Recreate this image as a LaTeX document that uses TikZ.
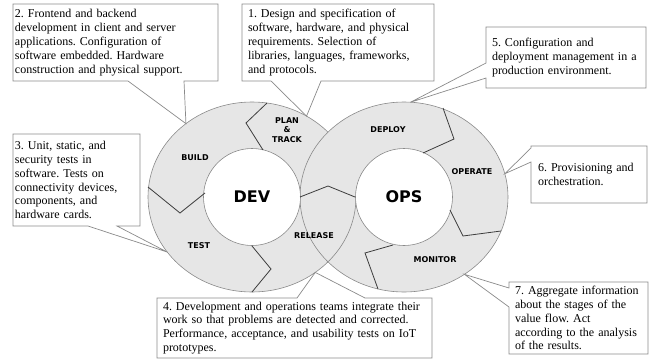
\documentclass[tikz,border=0pt]{standalone}
\usepackage{fontspec}
\setmainfont{Liberation Serif}
\newfontfamily\phasefont{DejaVu Sans}
\usetikzlibrary{shapes.geometric}
\frenchspacing

\definecolor{ringgray}{HTML}{E6E6E6}
\definecolor{edgegray}{HTML}{8A8A8A}
\definecolor{cutgray}{HTML}{3C3C3C}

\tikzset{
  ring/.style={ellipse, draw=edgegray, fill=ringgray, line width=0.6pt, minimum width=208pt, minimum height=190pt, inner sep=0pt, outer sep=0pt},
  core/.style={circle, draw=edgegray, fill=white, line width=0.6pt, minimum size=97pt, inner sep=0pt, outer sep=0pt, font=\phasefont\bfseries\fontsize{16}{18}\selectfont},
  phase/.style={font=\phasefont\bfseries\fontsize{8}{9.5}\selectfont, align=center, inner sep=0pt},
  cut/.style={draw=cutgray, line width=0.8pt},
  note/.style={anchor=north west, align=left, inner ysep=0pt, outer sep=0pt, font=\fontsize{12}{13.9}\selectfont},
  callout/.style={draw=edgegray, line width=0.7pt}
}

\begin{document}
\begin{tikzpicture}[x=1pt, y=-1pt]
  \useasboundingbox (0,0) rectangle (654,362);

  % the two rings
  \node[ring] (devring) at (252,197) {};
  \node[ring] (opsring) at (404,197) {};
  \draw[edgegray, line width=0.6pt] (devring.east) arc[start angle=0, end angle=44, x radius=104, y radius=95];
  \node[core] (devcore) at (252,197) {DEV};
  \node[core] (opscore) at (404,197) {OPS};

  % cuts between the phases
  \draw[cut] (267,103) -- (246,123) -- (263,150);
  \draw[cut] (148,187) -- (180,213) -- (205,193);
  \draw[cut] (252,246) -- (271,269) -- (252,292);
  \draw[cut] (300,197) -- (328,186) -- (355,197);
  \draw[cut] (443,108) -- (454,139) -- (423,153);
  \draw[cut] (450,210) -- (463,236) -- (501,231);
  \draw[cut] (393,245) -- (365,253) -- (378,289);

  \node[phase] (plan) at (287,130) {PLAN\\\&\\TRACK};
  \node[phase] (build) at (195,158) {BUILD};
  \node[phase] (test) at (199,246) {TEST};
  \node[phase] (release) at (314,236) {RELEASE};
  \node[phase] (deploy) at (388,130) {DEPLOY};
  \node[phase] (operate) at (472,172) {OPERATE};
  \node[phase] (monitor) at (435,260) {MONITOR};

  % notes
  \node[note, inner xsep=2pt, text width=201pt, minimum height=77pt] (note2) at (13,4)
    {2. Frontend and backend\\development in client and server\\applications. Configuration of\\software embedded. Hardware\\construction and physical support.};
  \draw[callout] ([xshift=115pt]note2.south west) -- (note2.south west) -- (note2.north west) -- (note2.north east)
    -- (note2.south east) -- ([xshift=171pt]note2.south west) -- (devring.132) -- cycle;

  \node[note, inner xsep=6pt, text width=180pt, minimum height=77pt] (note1) at (242,4)
    {1. Design and specification of\\software, hardware, and physical\\requirements. Selection of\\libraries, languages, frameworks,\\and protocols.};
  \draw[callout] ([xshift=29pt]note1.south west) -- (note1.south west) -- (note1.north west) -- (note1.north east)
    -- (note1.south east) -- ([xshift=79pt]note1.south west) -- (devring.56) -- cycle;

  \node[note, inner xsep=2pt, text width=123pt, minimum height=92pt] (note3) at (13,134)
    {3. Unit, static, and\\security tests in\\software. Tests on\\connectivity devices,\\components, and\\hardware cards.};
  \draw[callout] ([xshift=75pt]note3.south west) -- (note3.south west) -- (note3.north west) -- (note3.north east)
    -- (note3.south east) -- ([xshift=104pt]note3.south west) -- (devring.213) -- cycle;

  \node[note, inner xsep=6pt, text width=263pt, minimum height=60pt] (note4) at (157,298)
    {4. Development and operations teams integrate their\\work so that problems are detected and corrected.\\Performance, acceptance, and usability tests on IoT\\prototypes.};
  \draw[callout] ([xshift=140pt]note4.north west) -- (note4.north west) -- (note4.south west) -- (note4.south east)
    -- (note4.north east) -- ([xshift=208pt]note4.north west) -- (devring.310) -- cycle;

  \node[note, inner xsep=6pt, text width=148pt, minimum height=61pt] (note5) at (486,27)
    {5. Configuration and\\deployment management in a\\production environment.};
  \draw[callout] ([yshift=-36pt]note5.north west) -- (note5.north west) -- (note5.north east) -- (note5.south east)
    -- (note5.south west) -- ([yshift=-51pt]note5.north west) -- (opsring.86) -- cycle;

  \node[note, inner xsep=7pt, text width=102pt, minimum height=57pt] (note6) at (531,146)
    {6. Provisioning and\\orchestration.};
  \draw[callout] ([yshift=-2pt]note6.north west) -- (note6.north west) -- (note6.north east) -- (note6.south east)
    -- (note6.south west) -- ([yshift=-16pt]note6.north west) -- (opsring.13) -- cycle;

  \node[note, inner xsep=6pt, text width=127pt, minimum height=72pt] (note7) at (509,282)
    {7. Aggregate information\\about the stages of the\\value flow. Act\\according to the analysis\\of the results.};
  \draw[callout] ([yshift=-6pt]note7.north west) -- (note7.north west) -- (note7.north east) -- (note7.south east)
    -- (note7.south west) -- ([yshift=-25pt]note7.north west) -- (opsring.308) -- cycle;
\end{tikzpicture}
\end{document}
